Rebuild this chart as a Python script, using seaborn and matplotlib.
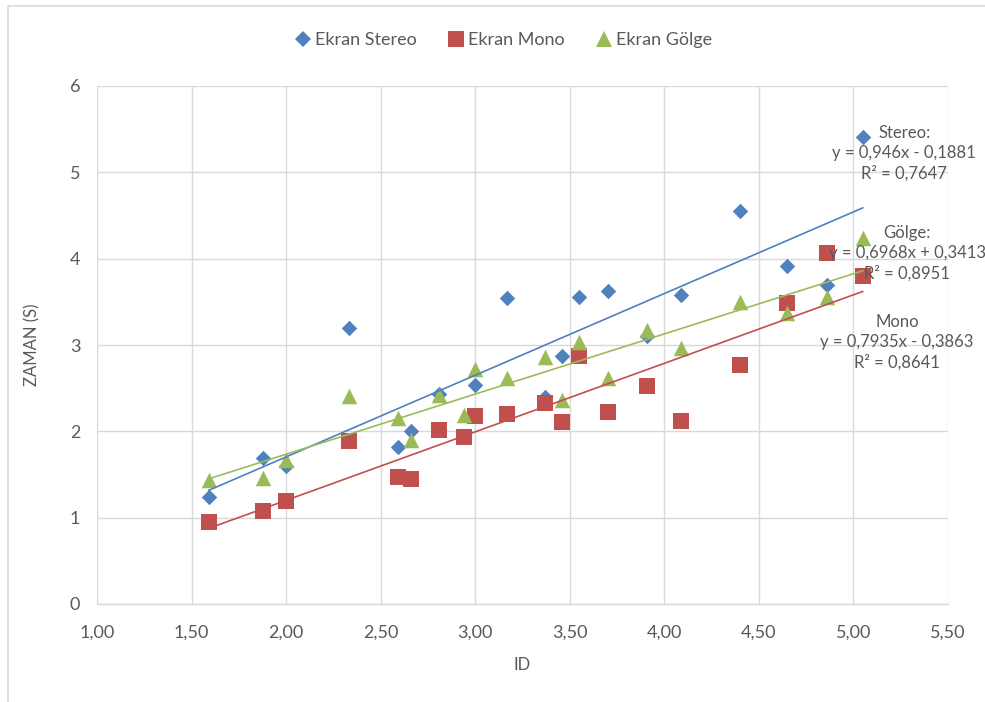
import numpy as np
import pandas as pd
import matplotlib
matplotlib.use("Agg")
import matplotlib.pyplot as plt
from matplotlib.ticker import FuncFormatter
from matplotlib.lines import Line2D
import seaborn as sns

# Index of difficulty (ID) values shared by the three screen conditions
ids = [1.59, 1.88, 2.00, 2.33, 2.59, 2.66, 2.81, 2.94, 3.00, 3.17,
       3.37, 3.46, 3.55, 3.70, 3.91, 4.09, 4.40, 4.65, 4.86, 5.05]

# Movement time (s) per condition
stereo = [1.24, 1.69, 1.60, 3.20, 1.82, 2.00, 2.43, np.nan, 2.54, 3.54,
          2.40, 2.87, 3.56, 3.63, 3.10, 3.58, 4.55, 3.92, 3.69, 5.41]
mono = [0.95, 1.08, 1.19, 1.89, 1.47, 1.45, 2.02, 1.93, 2.18, 2.20,
        2.33, 2.11, 2.87, 2.22, 2.52, 2.12, 2.77, 3.49, 4.06, 3.80]
golge = [1.44, 1.46, 1.67, 2.41, 2.15, 1.90, 2.42, 2.19, 2.72, 2.62,
         2.86, 2.36, 3.04, 2.62, 3.17, 2.97, 3.50, 3.37, 3.56, 4.24]

series_names = ["Ekran Stereo", "Ekran Mono", "Ekran Gölge"]

# Linear trendline coefficients and fit quality
trend_titles = ["Stereo:", "Mono", "Gölge:"]
trend_slopes = [0.946, 0.7935, 0.6968]
trend_intercepts = [-0.1881, -0.3863, 0.3413]
trend_r2 = [0.7647, 0.8641, 0.8951]

x_ticks = [1.00, 1.50, 2.00, 2.50, 3.00, 3.50, 4.00, 4.50, 5.00, 5.50]
y_ticks = [0, 1, 2, 3, 4, 5, 6]

# ---- styling ----
colors = ["#4F81BD", "#C0504D", "#9BBB59"]
markers = ["D", "s", "^"]
marker_sizes = [62, 122, 125]
label_pos = [(5.268, 5.22), (5.23, 3.03), (5.285, 4.06)]  # (ID, ZAMAN) centres
text_color = "#595959"
grid_color = "#D9D9D9"

sns.set_theme(style="white")
plt.rcParams["font.family"] = ["Lato", "DejaVu Sans"]
plt.rcParams["text.color"] = text_color
plt.rcParams["axes.labelcolor"] = text_color
plt.rcParams["xtick.color"] = text_color
plt.rcParams["ytick.color"] = text_color

df = pd.DataFrame({"ID": ids, "Ekran Stereo": stereo,
                   "Ekran Mono": mono, "Ekran Gölge": golge})
long = df.melt(id_vars="ID", var_name="Ekran", value_name="ZAMAN").dropna()

fig = plt.figure(figsize=(9.85, 7.02), dpi=100)
ax = fig.add_axes([97 / 985, 1 - 604 / 702, (948 - 97) / 985, (604 - 86) / 702])

handles = []
for name, col, mk, sz in zip(series_names, colors, markers, marker_sizes):
    sub = long[long["Ekran"] == name]
    sns.scatterplot(data=sub, x="ID", y="ZAMAN", marker=mk, color=col, s=sz,
                    linewidth=0, ax=ax, zorder=3, legend=False)
    handles.append(Line2D([], [], linestyle="none", marker=mk, color=col,
                          markersize=np.sqrt(sz), markeredgewidth=0, label=name))

# Trendlines over each series' ID range
for name, col, a, b in zip(series_names, colors, trend_slopes, trend_intercepts):
    sub = long[long["Ekran"] == name]
    xs = np.array([sub["ID"].min(), sub["ID"].max()])
    line_df = pd.DataFrame({"ID": xs, "ZAMAN": a * xs + b})
    sns.lineplot(data=line_df, x="ID", y="ZAMAN", color=col, linewidth=1.2,
                 ax=ax, zorder=4, legend=False)

def dec(v):
    return f"{v}".replace(".", ",")

for title, a, b, r2, (px, py) in zip(trend_titles, trend_slopes, trend_intercepts,
                                     trend_r2, label_pos):
    sign = "+" if b >= 0 else "-"
    txt = f"{title}\ny = {dec(a)}x {sign} {dec(abs(b))}\nR² = {dec(r2)}"
    ax.text(px, py, txt, ha="center", va="center", multialignment="center",
            fontsize=12, color=text_color, linespacing=1.3, zorder=5,
            clip_on=False)

ax.set_xlim(1.0, 5.5)
ax.set_ylim(0, 6)
ax.set_xticks(x_ticks)
ax.set_yticks(y_ticks)
ax.xaxis.set_major_formatter(FuncFormatter(lambda v, p: f"{v:.2f}".replace(".", ",")))
ax.yaxis.set_major_formatter(FuncFormatter(lambda v, p: f"{v:.0f}"))
ax.tick_params(axis="x", length=0, pad=15, labelsize=13)
ax.tick_params(axis="y", length=0, pad=12, labelsize=13)
ax.grid(True, color=grid_color, linewidth=1.0)
ax.set_axisbelow(True)
for side in ["top", "right", "left"]:
    ax.spines[side].set_visible(False)
ax.spines["bottom"].set_color(grid_color)
ax.spines["bottom"].set_linewidth(1.0)

ax.set_xlabel("ID", fontsize=12)
ax.set_ylabel("ZAMAN (S)", fontsize=12)
ax.xaxis.set_label_coords(0.5, -0.102)
ax.yaxis.set_label_coords(-0.066, 0.5)

fig.legend(handles=handles, loc="center", bbox_to_anchor=(0.51, 1 - 40 / 702),
           ncol=3, frameon=False, fontsize=13, handletextpad=0.05,
           columnspacing=1.6, handlelength=1.2)

# light chart-area frame
fig.add_artist(Line2D([8 / 985, 8 / 985], [0, 1 - 6 / 702], transform=fig.transFigure,
                      color=grid_color, linewidth=1.2))
fig.add_artist(Line2D([8 / 985, 1], [1 - 6 / 702, 1 - 6 / 702], transform=fig.transFigure,
                      color=grid_color, linewidth=1.2))

fig.savefig("out.png", dpi=100, facecolor="white")
